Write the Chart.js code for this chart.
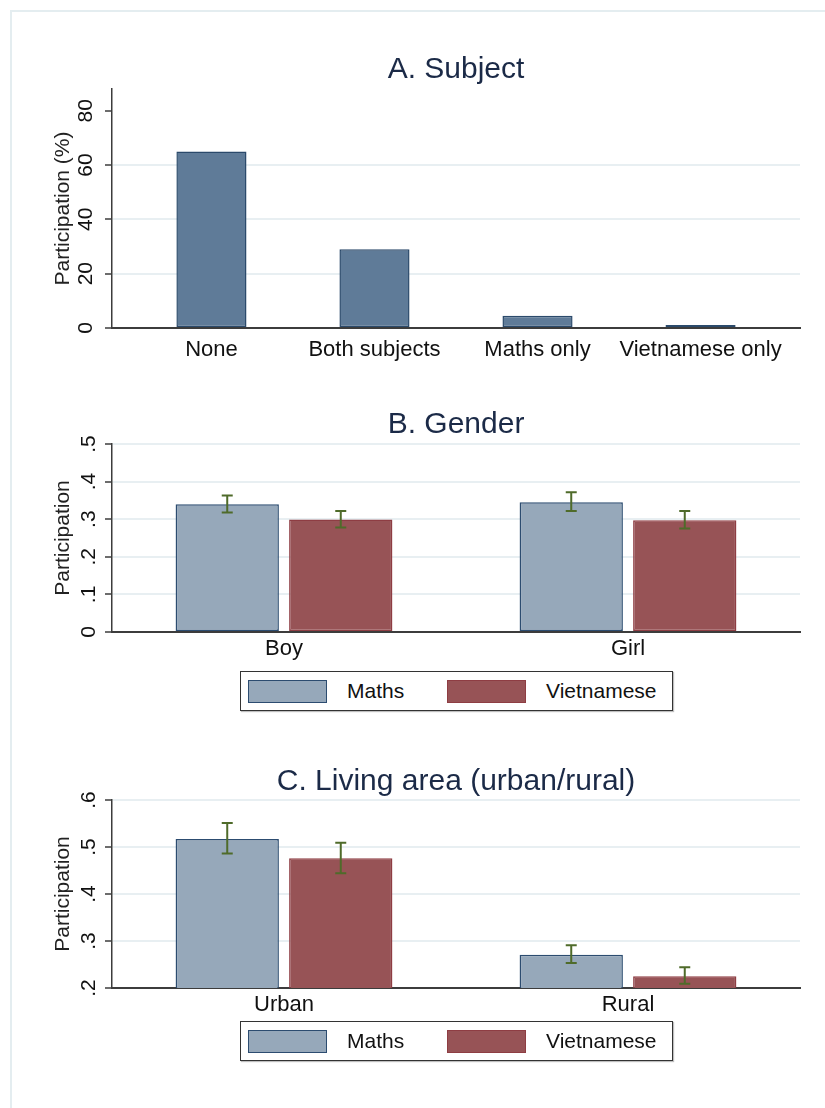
<!DOCTYPE html>
<html lang="en">
<head>
  <meta charset="UTF-8">
  <title>Participation by subject, gender and living area</title>
  <script src="https://cdn.jsdelivr.net/npm/chart.js"></script>
  <style>
    body {
      margin: 0;
      width: 825px;
      height: 1108px;
      position: relative;
      overflow: hidden;
      background: #fff;
      font-family: "Liberation Sans", Arial, sans-serif;
    }
    .frame {
      position: absolute;
      left: 10px;
      top: 10px;
      width: 900px;
      height: 1200px;
      border-left: 2px solid #e4edf0;
      border-top: 2px solid #e4edf0;
    }
    .panel {
      position: absolute;
      left: 0;
    }
    .legend {
      position: absolute;
      left: 240px;
      width: 431px;
      height: 38px;
      border: 1.5px solid #333;
      box-shadow: 1px 1px 1px rgba(0, 0, 0, 0.25);
      background: #fff;
      font-size: 21px;
      color: #111;
    }
    .legend .item {
      position: absolute;
      top: 0;
      height: 38px;
      display: flex;
      align-items: center;
    }
    .legend .swatch {
      width: 77px;
      height: 21px;
      margin-right: 20px;
      border: 1.5px solid;
    }
  </style>
</head>
<body>
  <div class="frame"></div>

  <canvas id="chartA" class="panel" style="top:30px" width="825" height="350"></canvas>
  <canvas id="chartB" class="panel" style="top:390px" width="825" height="275"></canvas>
  <div id="legendB" class="legend" style="top:671px"></div>
  <canvas id="chartC" class="panel" style="top:745px" width="825" height="280"></canvas>
  <div id="legendC" class="legend" style="top:1021px"></div>

  <script>
    // Panel A: share of pupils by subject of extra classes (%)
    const subjectCats = ['None', 'Both subjects', 'Maths only', 'Vietnamese only'];
    const subjectVals = [65, 29, 4.5, 0.5];
    const subjectTicks = [0, 20, 40, 60, 80];

    // Panel B: participation by gender
    const genderCats = ['Boy', 'Girl'];
    const genderMaths = [0.340, 0.345];
    const genderMathsLo = [0.318, 0.322];
    const genderMathsHi = [0.363, 0.372];
    const genderViet = [0.299, 0.297];
    const genderVietLo = [0.278, 0.275];
    const genderVietHi = [0.322, 0.322];
    const genderTicks = [0, 0.1, 0.2, 0.3, 0.4, 0.5];
    const genderTickLabels = ['0', '.1', '.2', '.3', '.4', '.5'];

    // Panel C: participation by living area
    const areaCats = ['Urban', 'Rural'];
    const areaMaths = [0.517, 0.271];
    const areaMathsLo = [0.486, 0.253];
    const areaMathsHi = [0.551, 0.291];
    const areaViet = [0.476, 0.225];
    const areaVietLo = [0.444, 0.209];
    const areaVietHi = [0.509, 0.244];
    const areaTicks = [0.2, 0.3, 0.4, 0.5, 0.6];
    const areaTickLabels = ['.2', '.3', '.4', '.5', '.6'];

    const FONT = "'Liberation Sans', Arial, sans-serif";
    const TITLE_COLOR = '#1b2a47';
    const TEXT_COLOR = '#111111';
    const GRID_COLOR = '#e8eff2';
    const AXIS_COLOR = '#3c3c3c';

    const series = {
      maths: { label: 'Maths', fill: '#96a8ba', border: '#2c4c70' },
      viet: { label: 'Vietnamese', fill: '#975356', border: '#8e3d43' }
    };

    Chart.defaults.font.family = FONT;
    Chart.defaults.color = TEXT_COLOR;
    Chart.defaults.animation = false;

    // draws confidence intervals on top of grouped bars
    const errorBars = {
      id: 'errorBars',
      afterDatasetsDraw(chart) {
        const ctx = chart.ctx;
        const y = chart.scales.y;
        chart.data.datasets.forEach((ds, di) => {
          if (!ds.errLow) return;
          const meta = chart.getDatasetMeta(di);
          meta.data.forEach((bar, i) => {
            const top = y.getPixelForValue(ds.errHigh[i]);
            const bot = y.getPixelForValue(ds.errLow[i]);
            ctx.save();
            ctx.strokeStyle = '#4f6b2a';
            ctx.lineWidth = 2;
            ctx.beginPath();
            ctx.moveTo(bar.x, top);
            ctx.lineTo(bar.x, bot);
            ctx.moveTo(bar.x - 5.5, top);
            ctx.lineTo(bar.x + 5.5, top);
            ctx.moveTo(bar.x - 5.5, bot);
            ctx.lineTo(bar.x + 5.5, bot);
            ctx.stroke();
            ctx.restore();
          });
        });
      }
    };

    function yAxis(ticks, labels, min, max, noGrid) {
      return {
        min: min,
        max: max,
        afterBuildTicks: (scale) => { scale.ticks = ticks.map(v => ({ value: v })); },
        afterFit: (scale) => { scale.width = 72; },
        ticks: {
          minRotation: 90,
          maxRotation: 90,
          crossAlign: 'center',
          padding: 7,
          color: TEXT_COLOR,
          font: { size: 21 },
          callback: (v) => labels ? labels[ticks.indexOf(v)] : String(v)
        },
        grid: {
          color: (c) => noGrid.includes(c.tick.value) ? 'rgba(0,0,0,0)' : GRID_COLOR,
          lineWidth: 2,
          tickLength: 7,
          tickColor: AXIS_COLOR,
          tickWidth: 1.5
        },
        border: { display: true, color: AXIS_COLOR, width: 1.5 },
        title: {
          display: true,
          text: 'Participation',
          color: '#222',
          font: { size: 21 },
          padding: { top: 11, bottom: 0 }
        }
      };
    }

    function titleOpts(text, top, bottom) {
      return {
        display: true,
        text: text,
        fullSize: false,
        color: TITLE_COLOR,
        font: { size: 30, weight: 'normal' },
        padding: { top: top, bottom: bottom }
      };
    }

    // Panel A
    const axisA = yAxis(subjectTicks, null, 0, 88, [0, 80]);
    axisA.title.text = 'Participation (%)';
    new Chart(document.getElementById('chartA'), {
      type: 'bar',
      data: {
        datasets: [{
          data: subjectCats.map((c, i) => ({ x: i + 1, y: subjectVals[i] })),
          backgroundColor: '#5f7b98',
          borderColor: '#2b4a6b',
          borderWidth: 1.5,
          borderSkipped: false,
          minBarLength: 3,
          categoryPercentage: 1,
          barPercentage: 0.43
        }]
      },
      options: {
        responsive: false,
        layout: { padding: { left: 40, right: 25, top: 0, bottom: 0 }, autoPadding: false },
        plugins: {
          legend: { display: false },
          tooltip: { enabled: false },
          title: titleOpts('A. Subject', 22, 1)
        },
        scales: {
          x: {
            type: 'linear',
            min: 0.39,
            max: 4.61,
            offset: false,
            afterBuildTicks: (scale) => { scale.ticks = subjectCats.map((c, i) => ({ value: i + 1 })); },
            afterFit: (scale) => { scale.height = 52; },
            ticks: {
              padding: 9,
              color: TEXT_COLOR,
              font: { size: 22 },
              maxRotation: 0,
              callback: (v) => subjectCats[v - 1]
            },
            grid: { display: false, offset: false, drawTicks: false },
            border: { display: true, color: AXIS_COLOR, width: 2 }
          },
          y: axisA
        }
      }
    });

    function groupedChart(id, titleText, cats, maths, mathsLo, mathsHi, viet, vietLo, vietHi, yOpts, titlePad, xHeight) {
      return new Chart(document.getElementById(id), {
        type: 'bar',
        data: {
          labels: cats,
          datasets: [
            {
              label: series.maths.label,
              data: maths,
              errLow: mathsLo,
              errHigh: mathsHi,
              backgroundColor: series.maths.fill,
              borderColor: series.maths.border,
              borderWidth: 1.5,
              borderSkipped: false
            },
            {
              label: series.viet.label,
              data: viet,
              errLow: vietLo,
              errHigh: vietHi,
              backgroundColor: series.viet.fill,
              borderColor: series.viet.border,
              borderWidth: 1.5,
              borderSkipped: false
            }
          ]
        },
        options: {
          responsive: false,
          categoryPercentage: 0.66,
          barPercentage: 0.91,
          layout: { padding: { left: 40, right: 25, top: 0, bottom: 0 }, autoPadding: false },
          plugins: {
            legend: { display: false },
            tooltip: { enabled: false },
            title: titleOpts(titleText, titlePad[0], titlePad[1])
          },
          scales: {
            x: {
              afterFit: (scale) => { scale.height = xHeight; },
              ticks: { padding: 4, color: TEXT_COLOR, font: { size: 22 }, maxRotation: 0 },
              grid: { display: false, drawTicks: false },
              border: { display: true, color: AXIS_COLOR, width: 2 }
            },
            y: yOpts
          }
        },
        plugins: [errorBars]
      });
    }

    groupedChart('chartB', 'B. Gender', genderCats,
      genderMaths, genderMathsLo, genderMathsHi,
      genderViet, genderVietLo, genderVietHi,
      yAxis(genderTicks, genderTickLabels, 0, 0.5, [0]), [17, 1], 33);

    groupedChart('chartC', 'C. Living area (urban/rural)', areaCats,
      areaMaths, areaMathsLo, areaMathsHi,
      areaViet, areaVietLo, areaVietHi,
      yAxis(areaTicks, areaTickLabels, 0.2, 0.6, [0.2]), [19, 0], 37);

    // legends below panels B and C
    function buildLegend(id) {
      const box = document.getElementById(id);
      const lefts = [7, 206];
      [series.maths, series.viet].forEach((s, i) => {
        const item = document.createElement('div');
        item.className = 'item';
        item.style.left = lefts[i] + 'px';
        const sw = document.createElement('span');
        sw.className = 'swatch';
        sw.style.background = s.fill;
        sw.style.borderColor = s.border;
        const txt = document.createElement('span');
        txt.textContent = s.label;
        item.appendChild(sw);
        item.appendChild(txt);
        box.appendChild(item);
      });
    }
    buildLegend('legendB');
    buildLegend('legendC');
  </script>
</body>
</html>
